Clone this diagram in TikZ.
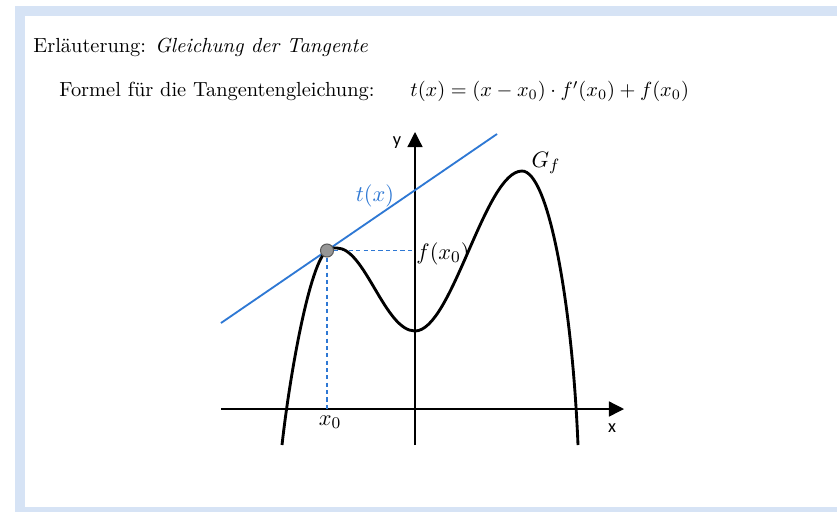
\documentclass[tikz,border=0pt]{standalone}
\usepackage{fontspec}
\newfontfamily\calibri{Carlito}
\usetikzlibrary{arrows.meta}
\definecolor{framec}{RGB}{214,227,245}
\definecolor{tanblue}{RGB}{46,120,212}
\definecolor{dotfill}{RGB}{150,150,150}
\definecolor{dotdraw}{RGB}{90,90,90}
\tikzset{
  axisline/.style={line width=0.65pt,-{Triangle[length=7.4pt,width=7.4pt]}},
  helper/.style={tanblue,line width=0.5pt,dash pattern=on 2pt off 1.6pt},
  tangentline/.style={tanblue,line width=0.9pt},
  graphline/.style={black,line width=1.4pt},
  txt/.style={anchor=base west,inner sep=0pt,font=\fontsize{10}{12}\selectfont},
  axlab/.style={inner sep=0pt,font=\calibri\fontsize{9}{10}\selectfont},
  mlab/.style={inner sep=0pt,font=\fontsize{11}{13}\selectfont}
}
\begin{document}
\begin{tikzpicture}[x=0.49pt,y=-0.49pt]
\useasboundingbox (0,0) rectangle (837,512);
% frame
\fill[framec] (15,6) rectangle (837,512);
\fill[white] (25,16) rectangle (837,507);
% texts
\node[txt] (title) at (33,52) {Erläuterung: \textit{Gleichung der Tangente}};
\node[txt] (formlabel) at (59,96.5) {Formel für die Tangentengleichung:};
\node[txt] (formula) at (410,96.5) {$t(x) = (x - x_0)\cdot f'(x_0) + f(x_0)$};
% coordinates
\coordinate (O) at (415,409);
\coordinate (xs) at (221,409);
\coordinate (xe) at (624,409);
\coordinate (ys) at (415,445);
\coordinate (ye) at (415,132);
\coordinate (P) at (327,250.5);
\coordinate (Fy) at (415,250.5);
\coordinate (Fx) at (327,409);
\coordinate (T1) at (221,323);
\coordinate (T2) at (497,134);
% axes
\draw[axisline] (xs) -- (xe);
\draw[axisline] (ys) -- (ye);
% helper lines
\draw[helper] (P) -- (Fy);
\draw[helper] (P) -- (Fx);
% tangent
\draw[tangentline] (T1) -- (T2);
% graph
\draw[graphline] (282,445) .. controls (290,373) and (310,262.1) .. (P)
  .. controls (331,247.76) and (333,248) .. (337,248)
  .. controls (365,248) and (385,331) .. (415,331)
  .. controls (452,331) and (485,171) .. (522,171)
  .. controls (548,171) and (572,300) .. (578,445);
% point
\node[circle,fill=dotfill,draw=dotdraw,line width=0.5pt,minimum size=6.4pt,inner sep=0pt] (Pdot) at (P) {};
% labels
\node[axlab] (ylab) at (397,143) {y};
\node[axlab] (xlab) at (612,428) {x};
\node[mlab] (x0lab) at (330,422) {$x_0$};
\node[mlab] (fx0lab) at (443,254) {$f(x_0)$};
\node[mlab,text=tanblue] (tlab) at (375,196) {$t(x)$};
\node[mlab] (Gflab) at (546,163) {$G_f$};
\end{tikzpicture}
\end{document}
